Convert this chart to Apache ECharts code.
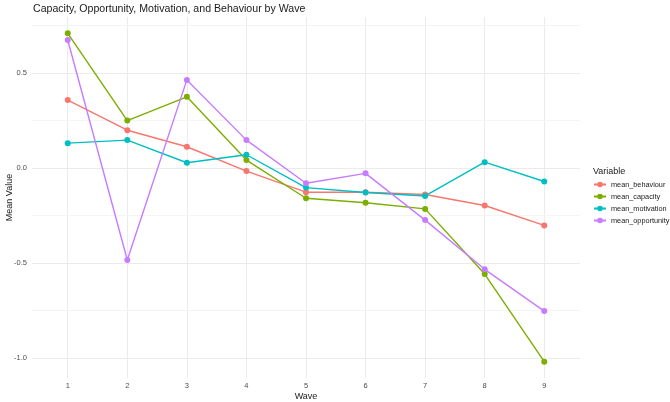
<!DOCTYPE html>
<html>
<head>
<meta charset="utf-8">
<script src="https://cdn.jsdelivr.net/npm/echarts@6/dist/echarts.min.js"></script>
<style>
  html, body { margin: 0; padding: 0; background: #fff; }
  #chart { width: 670px; height: 402px; }
</style>
</head>
<body>
<div id="chart"></div>
<script>
var chartDom = document.getElementById('chart');
var myChart = echarts.init(chartDom);

// dados
var waves = [1, 2, 3, 4, 5, 6, 7, 8, 9];
var yTicks = [-1.0, -0.5, 0.0, 0.5];
var yMinorTicks = [-0.75, -0.25, 0.25, 0.75];
var seriesNames = ['mean_behaviour', 'mean_capacity', 'mean_motivation', 'mean_opportunity'];
var meanBehaviour = [0.358, 0.199, 0.112, -0.016, -0.127, -0.127, -0.139, -0.197, -0.302];
var meanCapacity = [0.709, 0.250, 0.375, 0.042, -0.159, -0.183, -0.215, -0.558, -1.019];
var meanMotivation = [0.131, 0.147, 0.028, 0.070, -0.103, -0.129, -0.147, 0.031, -0.071];
var meanOpportunity = [0.674, -0.484, 0.464, 0.147, -0.080, -0.028, -0.274, -0.533, -0.753];

var colors = ['#F8766D', '#7CAE00', '#00BFC4', '#C77CFF'];
var allValues = [meanBehaviour, meanCapacity, meanMotivation, meanOpportunity];

function pairs(vals) {
    return waves.map(function (w, i) { return [w, vals[i]]; });
}

// linhas de grade (major e minor) como markLine
var gridLines = [];
waves.forEach(function (w) {
    gridLines.push({ xAxis: w, lineStyle: { color: '#ebebeb', width: 1, type: 'solid' } });
});
yTicks.forEach(function (v) {
    gridLines.push({ yAxis: v, lineStyle: { color: '#ebebeb', width: 1, type: 'solid' } });
});
yMinorTicks.forEach(function (v) {
    gridLines.push({ yAxis: v, lineStyle: { color: '#f4f4f4', width: 1, type: 'solid' } });
});

var series = [{
    type: 'line',
    data: [],
    silent: true,
    z: 0,
    markLine: {
        silent: true,
        z: 0,
        symbol: 'none',
        label: { show: false },
        animation: false,
        lineStyle: { type: 'solid' },
        emphasis: { disabled: true },
        data: gridLines
    }
}];

seriesNames.forEach(function (name, i) {
    series.push({
        name: name,
        type: 'line',
        data: pairs(allValues[i]),
        symbol: 'circle',
        symbolSize: 6,
        lineStyle: { width: 1.4, color: colors[i] },
        itemStyle: { color: colors[i], borderWidth: 0 },
        emphasis: { disabled: true },
        z: 3
    });
});

var option = {
    animation: false,
    textStyle: { fontFamily: 'Liberation Sans, Arial, sans-serif' },
    title: [
        {
            text: 'Capacity, Opportunity, Motivation, and Behaviour by Wave',
            left: 28,
            top: -1,
            textStyle: { fontSize: 10.6, fontWeight: 'normal', color: '#1a1a1a' }
        },
        {
            text: 'Variable',
            left: 588,
            top: 162,
            textStyle: { fontSize: 9, fontWeight: 'normal', color: '#1a1a1a' }
        }
    ],
    legend: {
        orient: 'vertical',
        left: 588,
        top: 176,
        itemWidth: 12,
        itemHeight: 7,
        itemGap: 5,
        data: seriesNames,
        textStyle: { fontSize: 7.3, color: '#1a1a1a' }
    },
    grid: {
        left: 32,
        right: 90,
        top: 17,
        bottom: 24,
        containLabel: false,
        outerBoundsMode: 'none'
    },
    xAxis: {
        type: 'value',
        min: 0.4,
        max: 9.6,
        name: 'Wave',
        nameLocation: 'middle',
        nameGap: 14,
        nameMoveOverlap: false,
        nameTextStyle: { fontSize: 9, color: '#1a1a1a' },
        axisLine: { show: false },
        axisTick: { show: false, customValues: waves },
        splitLine: { show: false },
        axisLabel: {
            customValues: waves,
            fontSize: 7.5,
            color: '#4d4d4d',
            margin: 4
        }
    },
    yAxis: {
        type: 'value',
        min: -1.105,
        max: 0.795,
        name: 'Mean Value',
        nameLocation: 'middle',
        nameGap: 18,
        nameMoveOverlap: false,
        nameRotate: 90,
        nameTextStyle: { fontSize: 9, color: '#1a1a1a' },
        axisLine: { show: false },
        axisTick: { show: false, customValues: yTicks },
        splitLine: { show: false },
        axisLabel: {
            customValues: yTicks,
            fontSize: 7.5,
            color: '#4d4d4d',
            margin: 5,
            formatter: function (v) { return v.toFixed(1); }
        }
    },
    series: series
};

myChart.setOption(option);
</script>
</body>
</html>
